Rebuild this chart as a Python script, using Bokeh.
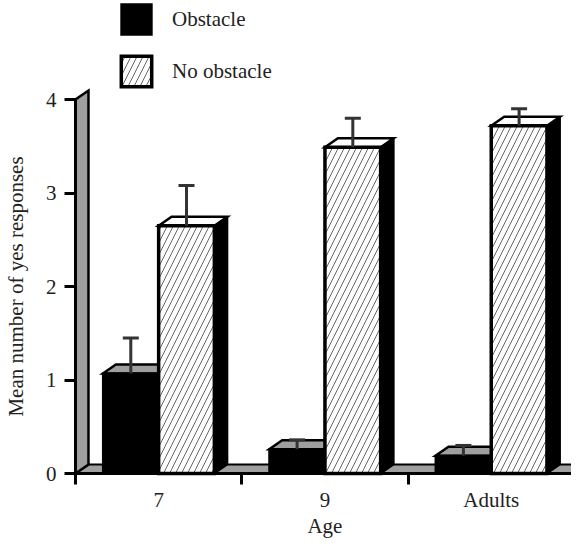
import math
from bokeh.plotting import figure
from bokeh.models import (Range1d, FixedTicker, Legend, LegendItem, Whisker,
                          ColumnDataSource, TeeHead, Label)
from bokeh.embed import file_html
from bokeh.resources import INLINE

# ---- data ----
ages = ["7", "9", "Adults"]
obstacle = [1.07, 0.26, 0.19]
obstacle_err = [0.38, 0.10, 0.11]
no_obstacle = [2.65, 3.49, 3.72]
no_obstacle_err = [0.43, 0.31, 0.18]
y_ticks = [0, 1, 2, 3, 4]
x_title = "Age"
y_title = "Mean number of yes responses"

# ---- styling / geometry ----
FONT = "Liberation Serif"
TXT = "#222222"
GRAY = "#9f9f9f"
BW = 0.335             # bar width (category units)
DX, DY = 0.078, 0.096  # 3-D depth offset in data units
W, H = 571, 541
ORIGIN_X, ORIGIN_Y = 75, 473   # pixel position of the axes origin
PX_X, PX_Y = 166.3, 93.5       # pixels per data unit
X_START, X_END = -ORIGIN_X / PX_X, (W - ORIGIN_X) / PX_X
Y_START, Y_END = -(H - ORIGIN_Y) / PX_Y, ORIGIN_Y / PX_Y

p = figure(width=W, height=H, output_backend="svg", toolbar_location=None,
           x_range=Range1d(X_START, X_END), y_range=Range1d(Y_START, Y_END),
           min_border=0, min_border_left=0, min_border_right=0,
           min_border_top=0, min_border_bottom=0)
p.outline_line_color = None
p.xgrid.visible = False
p.ygrid.visible = False

n = len(ages)
centers = [i + 0.5 for i in range(n)]

# floor and wall
floor_x = [0, X_END + 0.5, X_END + 0.5 + DX, DX]
floor_y = [0, 0, DY, DY]
p.patch(floor_x, floor_y, fill_color=GRAY, line_color="black", line_width=2)
wall_x = [0, DX, DX, 0]
wall_y = [0, DY, y_ticks[-1] + DY, y_ticks[-1]]
p.patch(wall_x, wall_y, fill_color=GRAY, line_color="black", line_width=2.5,
        line_join="miter")


def bar3d(lefts, vals, front_kw, top_fill, side_fill, front_lw):
    rights = [l + BW for l in lefts]
    p.patches(xs=[[r, r + DX, r + DX, r] for r in rights],
              ys=[[0, DY, v + DY, v] for v in vals],
              fill_color=side_fill, line_color="black", line_width=2)
    p.patches(xs=[[l, r, r + DX, l + DX] for l, r in zip(lefts, rights)],
              ys=[[v, v, v + DY, v + DY] for v in vals],
              fill_color=top_fill, line_color="black", line_width=2.5,
              line_join="miter")
    return p.vbar(x=[l + BW / 2 for l in lefts], width=BW, bottom=0, top=vals,
                  line_color="black", line_width=front_lw, line_join="miter",
                  **front_kw)


obs_lefts = [c - BW for c in centers]
nob_lefts = [c for c in centers]

obs_front = bar3d(obs_lefts, obstacle, dict(fill_color="black"), GRAY, "black", 2)
nob_front = bar3d(nob_lefts, no_obstacle,
                  dict(fill_color="white", hatch_pattern="/", hatch_scale=12,
                       hatch_weight=1, hatch_color="#666666"),
                  "white", "black", 3.5)

# error bars
for lefts, vals, errs in ((obs_lefts, obstacle, obstacle_err),
                          (nob_lefts, no_obstacle, no_obstacle_err)):
    src = ColumnDataSource(dict(x=[l + BW / 2 for l in lefts], lo=vals,
                                hi=[v + e for v, e in zip(vals, errs)]))
    w = Whisker(source=src, base="x", lower="lo", upper="hi",
                line_color="#333333", line_width=3, lower_head=None,
                upper_head=TeeHead(size=16, line_color="#333333", line_width=3),
                level="annotation")
    p.add_layout(w)

# axes, pinned at the data origin
p.yaxis.fixed_location = 0
p.yaxis.ticker = FixedTicker(ticks=y_ticks, minor_ticks=[])
p.yaxis.bounds = (y_ticks[0], y_ticks[-1])
p.yaxis.axis_line_width = 3
p.yaxis.major_tick_line_width = 3
p.yaxis.major_tick_in = 0
p.yaxis.major_tick_out = 11
p.yaxis.major_label_standoff = 8

p.xaxis.fixed_location = 0
p.xaxis.bounds = (0, X_END + 1)
p.xaxis.ticker = FixedTicker(ticks=centers, minor_ticks=[float(i) for i in range(n + 1)])
p.xaxis.major_label_overrides = {c: a for c, a in zip(centers, ages)}
p.xaxis.axis_line_width = 3
p.xaxis.major_tick_line_color = None
p.xaxis.major_tick_in = 0
p.xaxis.major_tick_out = 0
p.xaxis.minor_tick_in = 0
p.xaxis.minor_tick_out = 11
p.xaxis.minor_tick_line_width = 3
p.xaxis.minor_tick_line_color = "black"
p.xaxis.major_label_standoff = 3

for ax in (p.xaxis, p.yaxis):
    ax.major_label_text_font = FONT
    ax.major_label_text_font_size = "21px"
    ax.major_label_text_color = TXT
    ax.axis_line_color = "black"

# axis titles
p.add_layout(Label(x=n / 2, y=16, x_units="data", y_units="screen", text=x_title,
                   text_font=FONT, text_font_size="21px", text_color=TXT,
                   text_align="center", text_baseline="middle"))
p.add_layout(Label(x=15.5, y=(y_ticks[0] + y_ticks[-1]) / 2, x_units="screen",
                   y_units="data", text=y_title, angle=math.pi / 2,
                   text_font=FONT, text_font_size="21px", text_color=TXT,
                   text_align="center", text_baseline="middle"))

legend = Legend(items=[LegendItem(label="Obstacle", renderers=[obs_front]),
                       LegendItem(label="No obstacle", renderers=[nob_front])],
                location=(117, 451), glyph_width=38, glyph_height=38, spacing=14,
                padding=0, margin=0, label_standoff=17,
                label_text_font=FONT, label_text_font_size="21px",
                label_text_color=TXT, border_line_color=None,
                background_fill_alpha=0)
p.add_layout(legend)

open("out.html", "w").write(file_html(p, INLINE))
